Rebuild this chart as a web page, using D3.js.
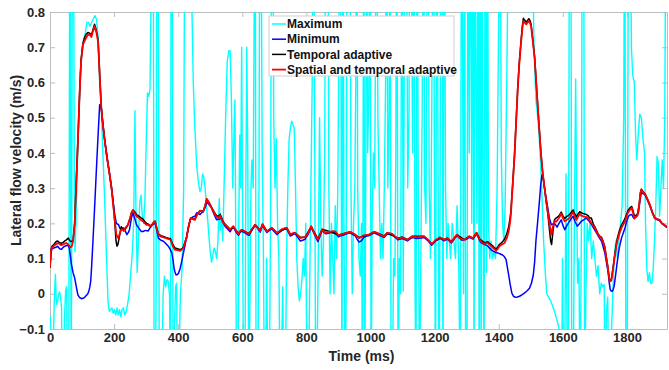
<!DOCTYPE html>
<html>
<head>
<meta charset="utf-8">
<script src="https://cdn.jsdelivr.net/npm/d3@7/dist/d3.min.js"></script>
<style>
  body { margin: 0; background: #fff; }
  svg { display: block; }
</style>
</head>
<body>
<script>
// ---- data (time in ms, velocity in m/s) ----
const xTicks = [0, 200, 400, 600, 800, 1000, 1200, 1400, 1600, 1800]
const yTicks = [-0.1, 0, 0.1, 0.2, 0.3, 0.4, 0.5, 0.6, 0.7, 0.8]
const seriesNames = ['Maximum', 'Minimum', 'Temporal adaptive', 'Spatial and temporal adaptive']
const seriesColors = ['#00ffff', '#0000ff', '#000000', '#ff0000']

const maximum = [
  [0,-0.06],[2,-0.09],[4,-0.35],[8,-0.3],[11,-0.12],[14,0.0],[17,0.055],[19,-0.01],[21,-0.03],[24,-0.02],[27,0.0],[30,0.005],
  [33,-0.01],[36,-0.04],[38,-0.3],[43,-0.3],[46,-0.05],[49,0.01],[52,0.02],[55,-0.3],[58,-0.35],[60,0.3],[62,1.3],[64,0.5],
  [66,-0.3],[68,0.2],[70,1.3],[73,1.2],[76,0.3],[78,0.12],[81,0.2],[85,0.35],[90,0.5],[95,0.63],[100,0.7],[105,0.72],
  [110,0.74],[115,0.77],[120,0.77],[125,0.76],[130,0.77],[135,0.78],[140,0.79],[145,0.78],[150,0.73],[155,0.6],[160,0.53],
  [165,0.4],[170,0.28],[175,0.14],[181,-0.02],[185,-0.05],[189,-0.045],[193,-0.04],[197,-0.055],[201,-0.045],[205,-0.06],
  [209,-0.04],[213,-0.06],[217,-0.045],[221,-0.065],[225,-0.045],[229,-0.04],[233,-0.06],[238,-0.05],[242,-0.03],[247,0.0],
  [252,0.06],[257,0.12],[261,0.2],[265,0.52],[268,0.25],[272,0.06],[276,0.15],[280,0.26],[284,0.28],[288,0.22],[292,0.2],
  [296,0.26],[300,0.42],[304,0.57],[308,0.56],[312,0.58],[316,0.9],[319,1.3],[322,1.2],[325,-0.3],[328,-0.4],[331,0.0],
  [334,1.2],[337,1.3],[341,-0.3],[345,-0.35],[349,-0.2],[353,0.0],[357,0.05],[361,0.02],[365,0.04],[369,0.035],[373,-0.005],
  [376,-0.3],[378,1.3],[381,1.2],[384,-0.3],[388,-0.1],[392,0.02],[395,0.03],[398,-0.3],[402,-0.2],[407,0.0],[412,0.07],
  [417,0.3],[421,1.2],[425,1.3],[430,1.3],[436,1.2],[441,0.9],[447,0.6],[452,0.47],[458,0.36],[464,0.31],[468,0.29],
  [472,0.3],[476,0.34],[480,0.33],[484,0.3],[488,0.25],[492,0.21],[496,0.16],[500,0.12],[504,0.09],[508,0.11],[512,0.13],
  [516,0.12],[520,0.1],[524,0.15],[528,0.27],[531,0.18],[535,0.22],[539,0.15],[543,0.3],[548,0.5],[553,0.66],[558,0.69],
  [562,0.69],[566,0.55],[570,0.3],[574,0.45],[577,0.55],[580,0.1],[582,-0.3],[586,-0.35],[589,0.2],[592,0.45],[595,0.3],
  [598,0.7],[601,0.2],[604,-0.3],[608,-0.3],[611,0.3],[614,0.7],[617,0.4],[620,-0.3],[624,0.0],[627,0.3],[630,0.38],
  [634,0.3],[637,0.8],[640,1.3],[643,-0.3],[646,-0.4],[649,-0.2],[652,0.3],[655,1.3],[658,1.2],[662,0.4],[666,0.1],
  [669,-0.3],[672,-0.35],[676,0.1],[680,-0.3],[684,-0.3],[688,0.2],[692,1.3],[695,1.2],[698,0.5],[702,0.3],[706,0.44],
  [710,0.2],[714,0.1],[718,-0.3],[722,-0.2],[726,0.02],[730,-0.3],[734,-0.3],[738,0.1],[742,0.3],[746,0.44],[750,0.47],
  [754,0.49],[758,0.48],[762,0.47],[766,0.3],[770,0.1],[774,0.02],[778,-0.02],[782,0.0],[786,0.04],[790,0.1],[794,0.05],
  [798,0.2],[802,-0.3],[806,-0.3],[810,0.0],[814,0.3],[818,0.6],[822,1.3],[826,0.4],[829,-0.3],[833,-0.2],[837,0.1],
  [841,0.5],[845,0.2],[849,0.05],[853,0.15],[857,0.4],[861,1.3],[864,1.2],[867,1.3],[870,0.3],[874,0.0],[878,0.2],
  [882,0.1],[886,0.0],[890,0.25],[894,0.1],[898,0.3],[902,0.8],[905,1.3],[908,0.6],[911,-0.3],[914,1.3],[917,0.2],
  [921,-0.3],[924,0.0],[927,1.3],[931,1.2],[935,1.3],[939,0.3],[943,0.0],[947,0.2],[951,0.3],[954,0.6],[957,1.3],
  [960,0.3],[964,0.1],[968,0.05],[972,0.2],[975,-0.3],[979,1.3],[982,-0.3],[985,0.3],[988,1.3],[991,0.4],[995,0.57],
  [998,1.3],[1002,-0.3],[1005,0.2],[1009,0.4],[1013,0.3],[1016,0.8],[1019,1.3],[1023,0.5],[1027,0.3],[1031,0.1],
  [1035,0.2],[1039,0.1],[1043,0.3],[1047,0.6],[1050,1.3],[1054,0.3],[1058,0.5],[1061,1.3],[1064,-0.3],[1068,-0.3],
  [1072,0.1],[1076,0.05],[1079,0.4],[1082,1.3],[1086,-0.3],[1090,0.1],[1094,0.0],[1098,1.3],[1102,0.007],[1105,0.6],
  [1108,1.3],[1112,1.2],[1116,0.3],[1120,0.5],[1123,1.3],[1127,1.2],[1131,0.4],[1135,1.3],[1139,0.0],[1142,-0.3],
  [1145,1.3],[1149,0.3],[1153,-0.3],[1157,0.1],[1161,0.5],[1165,1.3],[1169,0.3],[1173,0.2],[1176,0.8],[1179,1.3],
  [1183,0.3],[1187,0.1],[1191,0.5],[1196,1.3],[1200,0.2],[1203,-0.3],[1207,1.3],[1211,0.3],[1214,-0.3],[1217,0.245],
  [1220,1.3],[1223,1.2],[1226,-0.3],[1230,1.3],[1234,0.3],[1238,0.1],[1242,0.2],[1246,0.15],[1250,0.1],[1255,0.2],
  [1260,0.15],[1265,0.1],[1270,0.25],[1275,0.1],[1280,-0.3],[1284,1.3],[1288,0.5],[1290,0.0],[1293,1.3],[1297,-0.3],
  [1301,-0.2],[1304,1.3],[1308,0.4],[1312,1.3],[1316,0.2],[1320,1.3],[1323,-0.3],[1326,1.3],[1329,0.63],[1332,0.2],
  [1336,1.3],[1339,-0.3],[1342,1.3],[1345,-0.3],[1348,1.3],[1351,0.3],[1354,-0.3],[1358,1.3],[1362,0.06],[1365,1.3],
  [1368,0.2],[1372,0.1],[1376,0.15],[1380,0.1],[1385,0.12],[1390,0.1],[1395,0.3],[1400,0.8],[1404,1.3],[1408,0.4],
  [1412,0.2],[1416,0.15],[1420,0.25],[1425,0.6],[1430,1.0],[1440,1.2],[1460,1.2],[1470,0.85],[1476,0.8],[1482,0.81],
  [1488,0.82],[1494,0.8],[1500,0.83],[1505,1.0],[1510,0.7],[1516,0.55],[1522,0.5],[1528,0.42],[1534,0.3],[1540,0.15],
  [1546,0.05],[1550,0.0],[1556,-0.01],[1562,-0.02],[1568,-0.035],[1574,-0.05],[1580,-0.07],[1586,-0.09],[1592,-0.12],
  [1596,-0.3],[1599,0.1],[1602,-0.3],[1606,-0.2],[1610,0.34],[1613,-0.1],[1617,-0.3],[1621,1.3],[1625,1.2],[1628,-0.3],
  [1632,-0.3],[1636,0.2],[1640,0.61],[1643,0.3],[1646,0.03],[1650,0.1],[1654,-0.3],[1658,0.2],[1661,1.3],[1665,1.2],
  [1668,-0.3],[1672,0.0],[1676,0.2],[1680,0.15],[1685,0.2],[1690,0.1],[1695,0.15],[1700,0.1],[1705,0.05],[1710,0.08],
  [1715,0.0],[1720,0.03],[1725,0.02],[1729,0.026],[1732,-0.3],[1736,-0.05],[1740,-0.01],[1744,-0.3],[1748,-0.3],
  [1752,-0.1],[1756,0.0],[1760,0.1],[1765,0.15],[1770,0.1],[1775,0.15],[1780,0.2],[1785,0.25],[1790,0.5],[1793,1.3],
  [1797,-0.3],[1801,-0.2],[1805,1.3],[1810,1.2],[1814,0.7],[1818,0.62],[1823,0.6],[1827,0.45],[1831,0.38],[1835,0.45],
  [1840,0.51],[1845,0.5],[1850,0.44],[1855,0.4],[1858,0.2],[1862,0.07],[1866,0.035],[1870,0.06],[1874,0.03],[1878,0.03],
  [1882,0.07],[1886,0.15],[1890,0.25],[1894,0.39],[1898,0.37],[1902,0.22],[1906,0.3],[1910,0.38],[1914,0.3],[1918,0.5],
  [1922,1.2],[1925,1.3]
]

const minimum = [
  [0,0.073],[3,0.115],[6,0.128],[12,0.13],[18,0.132],[24,0.135],[30,0.128],[36,0.126],[41,0.132],[46,0.135],[52,0.137],
  [56,0.138],[60,0.13],[64,0.105],[67,0.083],[72,0.06],[77,0.045],[82,0.02],[87,-0.003],[92,-0.01],[98,-0.014],[103,-0.013],
  [108,-0.01],[114,-0.004],[118,0.0],[121,0.007],[124,0.018],[127,0.035],[130,0.08],[134,0.149],[140,0.26],[145,0.357],
  [150,0.45],[155,0.537],[158,0.535],[160,0.528],[165,0.48],[171,0.433],[178,0.385],[186,0.338],[192,0.3],[197,0.262],
  [202,0.225],[207,0.2],[214,0.196],[218,0.186],[222,0.182],[226,0.185],[230,0.187],[235,0.178],[240,0.168],[245,0.175],
  [248,0.182],[254,0.215],[259,0.23],[265,0.212],[270,0.196],[278,0.185],[285,0.177],[290,0.177],[298,0.18],[306,0.178],
  [312,0.187],[321,0.197],[328,0.2],[333,0.18],[338,0.158],[346,0.152],[354,0.149],[362,0.142],[369,0.135],[375,0.126],
  [380,0.116],[384,0.095],[387,0.073],[390,0.062],[393,0.054],[397,0.054],[401,0.058],[406,0.072],[411,0.092],[416,0.115],
  [422,0.141],[428,0.17],[437,0.21],[445,0.218],[452,0.22],[458,0.23],[463,0.228],[468,0.225],[473,0.23],[478,0.233],
  [484,0.245],[491,0.262],[497,0.252],[504,0.244],[512,0.225],[520,0.21],[528,0.212],[536,0.215],[541,0.2],[546,0.192],
  [554,0.184],[562,0.176],[567,0.184],[572,0.19],[580,0.176],[588,0.166],[593,0.174],[598,0.178],[606,0.174],[614,0.169],
  [621,0.166],[630,0.18],[640,0.194],[645,0.19],[650,0.182],[656,0.175],[663,0.195],[670,0.183],[677,0.174],[685,0.18],
  [692,0.184],[700,0.176],[708,0.168],[716,0.174],[723,0.18],[731,0.183],[739,0.184],[745,0.172],[750,0.164],[758,0.168],
  [765,0.17],[773,0.16],[781,0.15],[788,0.152],[796,0.155],[805,0.168],[815,0.188],[821,0.176],[827,0.164],[836,0.148],
  [843,0.165],[849,0.18],[855,0.174],[861,0.17],[868,0.172],[874,0.173],[882,0.175],[890,0.174],[895,0.168],[900,0.162],
  [908,0.165],[916,0.167],[926,0.17],[937,0.173],[945,0.168],[953,0.164],[958,0.155],[964,0.147],[971,0.15],[979,0.16],
  [987,0.164],[995,0.165],[1003,0.169],[1011,0.173],[1026,0.167],[1042,0.16],[1052,0.17],[1068,0.167],[1086,0.153],
  [1099,0.157],[1115,0.15],[1130,0.16],[1146,0.157],[1167,0.16],[1180,0.15],[1191,0.138],[1203,0.15],[1217,0.157],
  [1229,0.15],[1240,0.155],[1252,0.144],[1265,0.16],[1270,0.165],[1285,0.152],[1300,0.155],[1308,0.16],[1320,0.155],
  [1331,0.17],[1341,0.15],[1348,0.143],[1355,0.14],[1360,0.138],[1365,0.136],[1373,0.128],[1381,0.122],[1389,0.118],
  [1397,0.116],[1405,0.113],[1412,0.11],[1418,0.105],[1423,0.097],[1427,0.075],[1431,0.054],[1436,0.025],[1441,0.002],
  [1446,-0.007],[1452,-0.01],[1458,-0.009],[1465,-0.007],[1472,-0.003],[1480,0.002],[1488,0.008],[1496,0.016],[1502,0.03],
  [1508,0.054],[1512,0.09],[1516,0.149],[1521,0.2],[1527,0.263],[1531,0.31],[1535,0.338],[1539,0.325],[1543,0.3],
  [1548,0.27],[1553,0.244],[1558,0.215],[1564,0.196],[1569,0.198],[1574,0.2],[1578,0.195],[1582,0.189],[1588,0.2],
  [1595,0.21],[1600,0.195],[1606,0.182],[1613,0.194],[1621,0.206],[1627,0.214],[1632,0.22],[1638,0.205],[1645,0.192],
  [1651,0.198],[1658,0.206],[1665,0.21],[1673,0.215],[1681,0.207],[1689,0.197],[1697,0.185],[1705,0.173],[1713,0.16],
  [1721,0.149],[1726,0.133],[1731,0.116],[1736,0.09],[1741,0.064],[1745,0.03],[1748,0.012],[1751,0.008],[1754,0.007],
  [1757,0.012],[1760,0.021],[1765,0.055],[1770,0.092],[1776,0.13],[1783,0.158],[1789,0.174],[1794,0.187],[1799,0.205],
  [1805,0.22],[1810,0.224],[1815,0.225],[1819,0.218],[1823,0.213],[1830,0.222],[1836,0.23],[1840,0.26],[1845,0.287],
  [1851,0.284],[1857,0.28],[1864,0.266],[1871,0.251],[1879,0.23],[1887,0.214],[1895,0.21],[1902,0.208],[1909,0.199],
  [1916,0.195],[1922,0.19],[1925,0.189]
]

const temporal = [
  [0,0.075],[3,0.125],[6,0.135],[12,0.14],[18,0.147],[23,0.15],[29,0.146],[35,0.143],[41,0.146],[46,0.15],[51,0.153],
  [57,0.158],[62,0.15],[66,0.148],[72,0.152],[77,0.2],[82,0.32],[87,0.435],[92,0.56],[97,0.665],[103,0.712],[108,0.728],
  [113,0.737],[118,0.742],[124,0.74],[129,0.733],[134,0.75],[139,0.765],[144,0.75],[150,0.72],[155,0.625],[160,0.53],
  [165,0.482],[171,0.435],[178,0.388],[186,0.34],[192,0.3],[197,0.26],[202,0.205],[206,0.15],[209,0.135],[212,0.14],
  [216,0.16],[222,0.19],[226,0.186],[230,0.18],[236,0.185],[243,0.195],[250,0.215],[255,0.232],[259,0.238],[265,0.232],
  [270,0.225],[278,0.22],[285,0.215],[290,0.212],[296,0.205],[301,0.2],[306,0.198],[312,0.193],[318,0.196],[324,0.204],
  [328,0.206],[333,0.188],[338,0.17],[346,0.165],[354,0.163],[362,0.16],[370,0.158],[376,0.157],[383,0.14],[390,0.13],
  [398,0.128],[406,0.125],[412,0.128],[416,0.132],[421,0.147],[426,0.16],[432,0.19],[439,0.215],[445,0.213],[452,0.212],
  [460,0.226],[468,0.236],[474,0.235],[478,0.234],[484,0.25],[489,0.268],[494,0.262],[499,0.255],[507,0.24],[515,0.228],
  [520,0.222],[525,0.22],[531,0.226],[538,0.208],[546,0.198],[554,0.19],[562,0.182],[572,0.19],[588,0.172],[598,0.182],
  [614,0.174],[621,0.171],[640,0.196],[656,0.18],[663,0.197],[677,0.178],[692,0.187],[708,0.173],[739,0.187],[750,0.169],
  [765,0.173],[781,0.16],[796,0.161],[815,0.191],[836,0.156],[849,0.183],[874,0.176],[900,0.167],[937,0.176],[964,0.16],
  [995,0.168],[1011,0.176],[1042,0.164],[1052,0.173],[1086,0.158],[1099,0.161],[1115,0.154],[1130,0.163],[1167,0.163],
  [1191,0.142],[1217,0.16],[1229,0.154],[1240,0.158],[1252,0.148],[1270,0.168],[1292,0.154],[1308,0.163],[1320,0.158],
  [1331,0.174],[1341,0.155],[1355,0.145],[1365,0.148],[1373,0.142],[1381,0.136],[1387,0.13],[1392,0.127],[1397,0.133],
  [1402,0.14],[1410,0.146],[1418,0.155],[1425,0.17],[1431,0.19],[1435,0.212],[1438,0.235],[1443,0.305],[1449,0.39],
  [1454,0.485],[1459,0.58],[1464,0.655],[1470,0.722],[1474,0.762],[1477,0.782],[1481,0.777],[1486,0.771],[1490,0.776],
  [1494,0.781],[1498,0.775],[1501,0.765],[1506,0.724],[1512,0.672],[1517,0.6],[1522,0.53],[1527,0.462],[1532,0.397],
  [1537,0.345],[1543,0.3],[1548,0.262],[1553,0.228],[1558,0.185],[1562,0.15],[1565,0.14],[1569,0.175],[1574,0.21],
  [1579,0.215],[1584,0.218],[1590,0.224],[1595,0.232],[1600,0.222],[1606,0.214],[1613,0.22],[1621,0.225],[1627,0.232],
  [1632,0.238],[1637,0.228],[1642,0.218],[1647,0.226],[1653,0.233],[1658,0.23],[1663,0.228],[1671,0.226],[1679,0.222],
  [1684,0.215],[1689,0.215],[1695,0.198],[1700,0.19],[1705,0.18],[1710,0.17],[1715,0.164],[1721,0.16],[1726,0.148],
  [1731,0.133],[1735,0.108],[1739,0.085],[1743,0.057],[1746,0.037],[1751,0.039],[1755,0.063],[1760,0.097],[1765,0.13],
  [1770,0.158],[1776,0.178],[1783,0.195],[1789,0.205],[1794,0.214],[1799,0.226],[1803,0.236],[1809,0.244],[1815,0.248],
  [1819,0.236],[1823,0.222],[1828,0.222],[1833,0.226],[1838,0.252],[1842,0.287],[1845,0.297],[1851,0.289],[1857,0.283],
  [1864,0.269],[1871,0.254],[1879,0.233],[1887,0.216],[1895,0.212],[1902,0.21],[1909,0.2],[1916,0.196],[1922,0.192],
  [1925,0.19]
]

const spatialTemporal = [
  [0,0.075],[3,0.12],[6,0.132],[12,0.136],[18,0.14],[23,0.144],[29,0.142],[35,0.138],[41,0.14],[46,0.143],[51,0.144],
  [57,0.14],[64,0.132],[68,0.135],[72,0.149],[77,0.2],[82,0.32],[87,0.433],[92,0.56],[97,0.66],[103,0.708],[108,0.718],
  [113,0.727],[118,0.735],[124,0.736],[129,0.729],[134,0.745],[139,0.76],[144,0.745],[150,0.717],[155,0.62],[160,0.528],
  [165,0.48],[171,0.433],[178,0.385],[186,0.338],[192,0.3],[197,0.253],[202,0.21],[207,0.168],[213,0.158],[218,0.172],
  [222,0.182],[226,0.183],[230,0.178],[236,0.188],[243,0.196],[250,0.215],[255,0.232],[259,0.237],[265,0.228],[270,0.22],
  [278,0.215],[285,0.208],[290,0.206],[296,0.2],[301,0.196],[306,0.196],[312,0.192],[318,0.195],[324,0.203],[328,0.206],
  [333,0.185],[338,0.168],[346,0.162],[354,0.16],[362,0.158],[370,0.155],[376,0.154],[383,0.135],[390,0.125],[398,0.124],
  [406,0.122],[412,0.126],[416,0.13],[421,0.145],[426,0.158],[432,0.19],[439,0.215],[445,0.212],[452,0.21],[460,0.226],
  [468,0.236],[474,0.234],[478,0.233],[484,0.25],[489,0.27],[494,0.262],[499,0.253],[507,0.238],[515,0.225],[520,0.218],
  [525,0.215],[531,0.222],[538,0.205],[546,0.196],[554,0.19],[562,0.182],[567,0.188],[572,0.192],[580,0.18],[588,0.17],
  [593,0.178],[598,0.182],[606,0.178],[614,0.173],[621,0.17],[630,0.184],[640,0.196],[645,0.192],[650,0.185],[656,0.178],
  [663,0.198],[670,0.186],[677,0.177],[685,0.183],[692,0.187],[700,0.18],[708,0.172],[716,0.178],[723,0.183],[731,0.186],
  [739,0.187],[745,0.176],[750,0.168],[758,0.172],[765,0.173],[773,0.166],[781,0.158],[788,0.16],[796,0.16],[805,0.172],
  [815,0.192],[821,0.18],[827,0.168],[836,0.154],[843,0.17],[849,0.183],[855,0.177],[861,0.173],[868,0.176],[874,0.176],
  [882,0.178],[890,0.177],[895,0.172],[900,0.166],[908,0.168],[916,0.17],[926,0.173],[937,0.176],[945,0.172],[953,0.168],
  [958,0.163],[964,0.158],[971,0.162],[979,0.166],[987,0.167],[995,0.168],[1003,0.172],[1011,0.176],[1018,0.174],
  [1026,0.17],[1034,0.166],[1042,0.163],[1047,0.168],[1052,0.173],[1060,0.172],[1068,0.17],[1077,0.163],[1086,0.157],
  [1092,0.158],[1099,0.16],[1107,0.157],[1115,0.153],[1122,0.158],[1130,0.163],[1138,0.162],[1146,0.16],[1156,0.162],
  [1167,0.163],[1174,0.158],[1180,0.153],[1186,0.146],[1191,0.141],[1197,0.147],[1203,0.153],[1210,0.157],[1217,0.16],
  [1223,0.157],[1229,0.153],[1235,0.156],[1240,0.158],[1246,0.152],[1252,0.147],[1258,0.155],[1265,0.163],[1270,0.168],
  [1277,0.158],[1285,0.155],[1292,0.153],[1300,0.158],[1308,0.163],[1314,0.16],[1320,0.158],[1326,0.168],[1331,0.173],
  [1336,0.162],[1341,0.153],[1348,0.146],[1355,0.141],[1360,0.144],[1365,0.144],[1373,0.138],[1381,0.132],[1387,0.126],
  [1392,0.122],[1397,0.128],[1402,0.135],[1410,0.14],[1418,0.144],[1425,0.158],[1431,0.177],[1435,0.2],[1438,0.225],
  [1443,0.3],[1449,0.386],[1454,0.48],[1459,0.575],[1464,0.65],[1470,0.717],[1474,0.755],[1477,0.774],[1481,0.77],
  [1486,0.765],[1490,0.77],[1494,0.774],[1498,0.768],[1501,0.76],[1506,0.72],[1512,0.67],[1517,0.6],[1522,0.528],
  [1527,0.46],[1532,0.395],[1537,0.345],[1543,0.3],[1548,0.265],[1553,0.234],[1558,0.2],[1564,0.168],[1569,0.19],
  [1574,0.206],[1579,0.205],[1584,0.21],[1590,0.218],[1595,0.228],[1600,0.215],[1606,0.206],[1613,0.21],[1621,0.215],
  [1627,0.225],[1632,0.232],[1637,0.22],[1642,0.21],[1647,0.218],[1653,0.227],[1658,0.222],[1663,0.22],[1671,0.218],
  [1679,0.217],[1684,0.208],[1689,0.2],[1695,0.193],[1700,0.187],[1705,0.177],[1710,0.168],[1715,0.162],[1721,0.158],
  [1726,0.145],[1731,0.13],[1735,0.105],[1739,0.083],[1743,0.055],[1746,0.035],[1751,0.037],[1755,0.06],[1760,0.092],
  [1765,0.125],[1770,0.15],[1776,0.17],[1783,0.187],[1789,0.197],[1794,0.206],[1799,0.22],[1803,0.23],[1809,0.238],
  [1815,0.244],[1819,0.23],[1823,0.215],[1828,0.218],[1833,0.222],[1838,0.25],[1842,0.285],[1845,0.296],[1851,0.288],
  [1857,0.282],[1864,0.268],[1871,0.253],[1879,0.232],[1887,0.215],[1895,0.212],[1902,0.21],[1909,0.2],[1916,0.196],
  [1922,0.192],[1925,0.19]
]

// ---- layout ----
const width = 669
const height = 370
const margins = { top: 12, right: 2, bottom: 41, left: 50 }
const axisColor = '#bdbdbd'
const textColor = '#262626'
const font = '"Liberation Sans", Arial, sans-serif'

const xScale = d3.scaleLinear()
  .domain([0, 1925])
  .range([margins.left, width - margins.right])

const yScale = d3.scaleLinear()
  .domain([-0.1, 0.8])
  .range([height - margins.bottom, margins.top])

const svg = d3.select('body').append('svg')
  .attr('width', width)
  .attr('height', height)
  .attr('viewBox', [0, 0, width, height].join(' '))
  .style('font-family', font)

svg.append('defs').append('clipPath')
  .attr('id', 'plot-clip')
  .append('rect')
  .attr('x', margins.left)
  .attr('y', margins.top)
  .attr('width', width - margins.left - margins.right)
  .attr('height', height - margins.top - margins.bottom)

// ---- axes (MATLAB style: ticks point inward, box on) ----
const yFormat = d => (d === 0 ? '0' : d3.format('.1f')(d))

const styleAxis = g => {
  g.select('.domain').attr('stroke', axisColor)
  g.selectAll('.tick line').attr('stroke', axisColor)
  g.selectAll('.tick text')
    .attr('fill', textColor)
    .style('font-size', '13px')
    .style('font-weight', 'bold')
    .style('font-family', font)
}

svg.append('g')
  .attr('transform', `translate(0, ${height - margins.bottom})`)
  .call(d3.axisBottom(xScale).tickValues(xTicks).tickSizeInner(-5).tickSizeOuter(0).tickPadding(4).tickFormat(d3.format('d')))
  .call(styleAxis)

svg.append('g')
  .attr('transform', `translate(0, ${margins.top})`)
  .call(d3.axisTop(xScale).tickValues(xTicks).tickSizeInner(-5).tickSizeOuter(0).tickFormat(''))
  .call(styleAxis)

svg.append('g')
  .attr('transform', `translate(${margins.left}, 0)`)
  .call(d3.axisLeft(yScale).tickValues(yTicks).tickSizeInner(-5).tickSizeOuter(0).tickPadding(5).tickFormat(yFormat))
  .call(styleAxis)

svg.append('g')
  .attr('transform', `translate(${width - margins.right}, 0)`)
  .call(d3.axisRight(yScale).tickValues(yTicks).tickSizeInner(-5).tickSizeOuter(0).tickFormat(''))
  .call(styleAxis)

// ---- lines ----
const line = d3.line()
  .x(d => xScale(d[0]))
  .y(d => yScale(d[1]))

const seriesData = [maximum, minimum, temporal, spatialTemporal]
const strokeWidths = [1.4, 1.5, 1.5, 1.8]

const plot = svg.append('g').attr('clip-path', 'url(#plot-clip)')
seriesData.forEach((data, i) => {
  plot.append('path')
    .datum(data)
    .attr('d', line)
    .attr('fill', 'none')
    .attr('stroke', seriesColors[i])
    .attr('stroke-width', strokeWidths[i])
    .attr('stroke-linejoin', 'round')
})

// ---- axis titles ----
svg.append('text')
  .attr('x', (margins.left + width - margins.right) / 2 + 3)
  .attr('y', 361)
  .attr('fill', textColor)
  .style('text-anchor', 'middle')
  .style('font-size', '14px')
  .style('font-weight', 'bold')
  .text('Time (ms)')

svg.append('text')
  .attr('transform', 'rotate(-90)')
  .attr('x', -(margins.top + height - margins.bottom) / 2 + 10)
  .attr('y', 21)
  .attr('fill', textColor)
  .style('text-anchor', 'middle')
  .style('font-size', '14px')
  .style('font-weight', 'bold')
  .text('Lateral flow velocity (m/s)')

// ---- legend ----
const legend = svg.append('g').attr('transform', 'translate(269, 16)')
legend.append('rect')
  .attr('width', 185)
  .attr('height', 60)
  .attr('fill', '#fff')
  .attr('stroke', '#cfcfcf')
  .attr('stroke-width', 1)

seriesNames.forEach((name, i) => {
  const row = legend.append('g').attr('transform', `translate(0, ${8 + i * 15.2})`)
  row.append('line')
    .attr('x1', 3).attr('x2', 17)
    .attr('stroke', seriesColors[i])
    .attr('stroke-width', i === 3 ? 1.8 : 1.5)
  row.append('text')
    .attr('x', 18)
    .attr('dy', '0.35em')
    .attr('fill', '#111')
    .style('font-size', '12px')
    .style('font-weight', 'bold')
    .text(name)
})
</script>
</body>
</html>
